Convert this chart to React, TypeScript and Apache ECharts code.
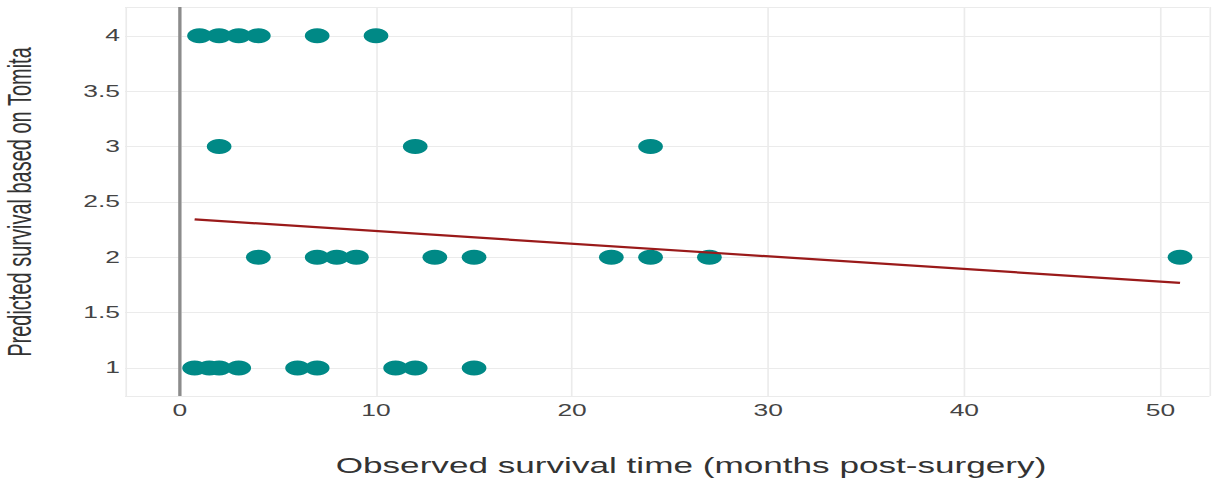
import React, { useEffect, useRef } from "react";
import * as echarts from "echarts";

// Observed survival (months) grouped by predicted Tomita survival score
const tomitaScores = [4, 3, 2, 1];
const monthsScore4 = [1, 2, 3, 4, 7, 10];
const monthsScore3 = [2, 12, 24];
const monthsScore2 = [4, 7, 8, 9, 13, 15, 22, 24, 27, 51];
const monthsScore1 = [0.75, 1.5, 2, 3, 6, 7, 11, 12, 15];

// Fitted trend line (start / end)
const trendMonths = [0.75, 51];
const trendScores = [2.342, 1.769];

const xTitle = "Observed survival time (months post-surgery)";
const yTitle = "Predicted survival based on Tomita";

const SX = 1.65;
const W = 1215;
const H = 480;
const IW = W / SX;

export default function App() {
  const ref = useRef<HTMLDivElement>(null);

  useEffect(() => {
    const chart = echarts.init(ref.current!, null, { renderer: "svg" });
    const groups = [monthsScore4, monthsScore3, monthsScore2, monthsScore1];
    const points: number[][] = [];
    groups.forEach((g, i) => g.forEach((m) => points.push([m, tomitaScores[i]])));
    const trend = trendMonths.map((m, i) => [m, trendScores[i]]);
    const font = "'Liberation Sans', Arial, sans-serif";

    const gridLeft = 125 / SX;
    const gridRight = 1211 / SX;

    chart.setOption({
      animation: false,
      backgroundColor: "#ffffff",
      grid: {
        left: gridLeft,
        top: 7,
        width: gridRight - gridLeft,
        height: 389,
        containLabel: false,
      },
      xAxis: {
        type: "value",
        min: -2.8,
        max: 52.5,
        splitNumber: 5,
        axisLine: { show: false },
        axisTick: { show: false },
        axisLabel: {
          color: "#444",
          fontSize: 16,
          fontFamily: font,
          margin: 6,
          formatter: (v: number) =>
            Math.abs(v / 10 - Math.round(v / 10)) < 1e-9 ? String(v) : "",
        },
        splitLine: { show: true, lineStyle: { color: "#ebebeb", width: 1 } },
      },
      yAxis: {
        type: "value",
        min: 0.747,
        max: 4.26,
        splitNumber: 7,
        axisLine: { show: false },
        axisTick: { show: false },
        axisLabel: {
          color: "#444",
          fontSize: 16,
          fontFamily: font,
          margin: 3,
          formatter: (v: number) =>
            Math.abs(v * 2 - Math.round(v * 2)) < 1e-9 ? String(v) : "",
        },
        splitLine: { show: true, lineStyle: { color: "#ebebeb", width: 1 } },
      },
      series: [
        {
          type: "scatter",
          data: points,
          symbol: "circle",
          symbolSize: 15,
          itemStyle: { color: "#008986", opacity: 1 },
          markLine: {
            silent: true,
            symbol: ["none", "none"],
            label: { show: false },
            lineStyle: { color: "#8c8c8c", width: 2, type: "solid" },
            data: [{ xAxis: 0 }],
          },
          z: 2,
        },
        {
          type: "line",
          data: trend,
          showSymbol: false,
          symbol: "none",
          lineStyle: { color: "#9a1a1a", width: 2.2 },
          z: 3,
        },
      ],
      graphic: [
        {
          type: "text",
          x: 691 / SX,
          y: 466,
          style: {
            text: xTitle,
            fill: "#333",
            fontSize: 21.3,
            fontFamily: font,
            align: "center",
            verticalAlign: "middle",
          },
        },
        {
          type: "text",
          x: 12,
          y: 202,
          rotation: Math.PI / 2,
          style: {
            text: yTitle,
            fill: "#333",
            fontSize: 20,
            fontFamily: font,
            align: "center",
            verticalAlign: "middle",
          },
        },
      ],
    });
    return () => chart.dispose();
  }, []);

  return (
    <div
      style={{
        position: "fixed",
        left: 0,
        top: 0,
        width: W,
        height: H,
        overflow: "hidden",
        background: "#fff",
      }}
    >
      <div
        ref={ref}
        style={{
          width: IW,
          height: H,
          transform: `scaleX(${SX})`,
          transformOrigin: "0 0",
        }}
      />
    </div>
  );
}
